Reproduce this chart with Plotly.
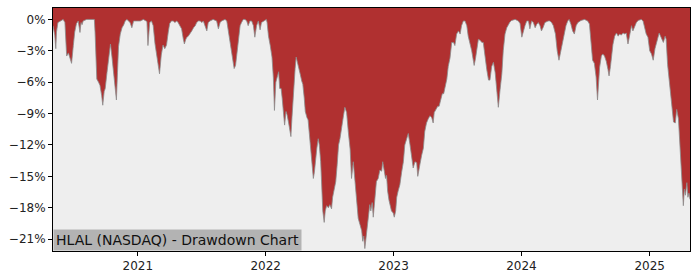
import plotly.graph_objects as go

dates = [
"2020-05-04","2020-05-09","2020-05-12","2020-05-14","2020-05-18","2020-05-26","2020-06-02","2020-06-07","2020-06-12","2020-06-17",
"2020-06-22","2020-06-26","2020-07-01","2020-07-05","2020-07-10","2020-07-15","2020-07-20","2020-07-23","2020-07-26","2020-07-29",
"2020-08-08","2020-08-17","2020-08-30","2020-09-01","2020-09-06","2020-09-11","2020-09-15","2020-09-20","2020-09-23","2020-09-27",
"2020-09-30","2020-10-05","2020-10-10","2020-10-15","2020-10-19","2020-10-24","2020-10-29","2020-11-01","2020-11-04","2020-11-07",
"2020-11-12","2020-11-17","2020-11-22","2020-11-26","2020-12-01","2020-12-10","2020-12-15","2020-12-20","2020-12-29","2021-01-08",
"2021-01-17","2021-01-27","2021-01-30","2021-02-02","2021-02-04","2021-02-09","2021-02-14","2021-02-19","2021-02-24","2021-02-28",
"2021-03-04","2021-03-09","2021-03-14","2021-03-19","2021-03-24","2021-03-29","2021-04-02","2021-04-07","2021-04-12","2021-04-17",
"2021-04-22","2021-04-26","2021-05-01","2021-05-06","2021-05-11","2021-05-14","2021-05-18","2021-05-21","2021-05-25","2021-05-30",
"2021-06-04","2021-06-09","2021-06-14","2021-06-18","2021-06-23","2021-06-28","2021-07-03","2021-07-07","2021-07-12","2021-07-17",
"2021-07-21","2021-07-26","2021-08-04","2021-08-14","2021-08-19","2021-08-24","2021-08-28","2021-09-07","2021-09-12","2021-09-17",
"2021-09-21","2021-09-26","2021-10-01","2021-10-03","2021-10-07","2021-10-10","2021-10-15","2021-10-20","2021-10-24","2021-10-29",
"2021-11-03","2021-11-08","2021-11-12","2021-11-17","2021-11-22","2021-11-27","2021-12-01","2021-12-06","2021-12-11","2021-12-16",
"2021-12-20","2021-12-30","2022-01-03","2022-01-05","2022-01-09","2022-01-14","2022-01-19","2022-01-23","2022-01-26","2022-01-30",
"2022-02-02","2022-02-07","2022-02-10","2022-02-14","2022-02-17","2022-02-21","2022-02-24","2022-02-28","2022-03-03","2022-03-07",
"2022-03-10","2022-03-14","2022-03-17","2022-03-21","2022-03-26","2022-03-29","2022-04-02","2022-04-05","2022-04-10","2022-04-14",
"2022-04-17","2022-04-21","2022-04-24","2022-04-29","2022-05-02","2022-05-05","2022-05-08","2022-05-11","2022-05-14","2022-05-17",
"2022-05-20","2022-05-23","2022-05-27","2022-05-31","2022-06-03","2022-06-07","2022-06-10","2022-06-13","2022-06-17","2022-06-20",
"2022-06-24","2022-06-29","2022-07-03","2022-07-08","2022-07-11","2022-07-15","2022-07-20","2022-07-24","2022-07-28","2022-08-01",
"2022-08-06","2022-08-11","2022-08-15","2022-08-20","2022-08-25","2022-08-30","2022-09-03","2022-09-08","2022-09-13","2022-09-18",
"2022-09-22","2022-09-27","2022-10-02","2022-10-05","2022-10-08","2022-10-11","2022-10-16","2022-10-20","2022-10-25","2022-10-28",
"2022-11-01","2022-11-04","2022-11-07","2022-11-11","2022-11-13","2022-11-18","2022-11-23","2022-11-28","2022-12-01","2022-12-04",
"2022-12-09","2022-12-12","2022-12-15","2022-12-19","2022-12-22","2022-12-26","2022-12-31","2023-01-03","2023-01-07","2023-01-10",
"2023-01-14","2023-01-19","2023-01-24","2023-01-29","2023-02-02","2023-02-07","2023-02-12","2023-02-17","2023-02-21","2023-02-26",
"2023-03-03","2023-03-08","2023-03-11","2023-03-14","2023-03-17","2023-03-22","2023-03-27","2023-03-31","2023-04-05","2023-04-10",
"2023-04-15","2023-04-20","2023-04-24","2023-04-27","2023-05-01","2023-05-07","2023-05-11","2023-05-16","2023-05-20","2023-05-24",
"2023-05-28","2023-06-02","2023-06-06","2023-06-11","2023-06-16","2023-06-21","2023-06-25","2023-06-30","2023-07-05","2023-07-10",
"2023-07-14","2023-07-19","2023-07-24","2023-07-29","2023-08-02","2023-08-07","2023-08-12","2023-08-17","2023-08-19","2023-08-23",
"2023-08-27","2023-08-31","2023-09-05","2023-09-10","2023-09-14","2023-09-19","2023-09-24","2023-09-29","2023-10-03","2023-10-08",
"2023-10-13","2023-10-18","2023-10-22","2023-10-27","2023-11-01","2023-11-06","2023-11-10","2023-11-15","2023-11-20","2023-11-25",
"2023-11-29","2023-12-04","2023-12-14","2023-12-23","2023-12-28","2024-01-02","2024-01-06","2024-01-11","2024-01-16","2024-01-21",
"2024-01-25","2024-01-30","2024-02-04","2024-02-09","2024-02-13","2024-02-18","2024-02-23","2024-02-27","2024-03-03","2024-03-08",
"2024-03-17","2024-03-22","2024-03-27","2024-04-01","2024-04-07","2024-04-12","2024-04-17","2024-04-22","2024-04-27","2024-05-02",
"2024-05-07","2024-05-12","2024-05-16","2024-05-21","2024-05-26","2024-05-31","2024-06-05","2024-06-10","2024-06-19","2024-06-29",
"2024-07-08","2024-07-13","2024-07-18","2024-07-22","2024-07-27","2024-08-01","2024-08-05","2024-08-08","2024-08-11","2024-08-16",
"2024-08-20","2024-08-25","2024-08-30","2024-09-04","2024-09-07","2024-09-11","2024-09-14","2024-09-18","2024-09-23","2024-09-28",
"2024-10-03","2024-10-07","2024-10-12","2024-10-17","2024-10-22","2024-10-26","2024-10-31","2024-11-05","2024-11-10","2024-11-14",
"2024-11-19","2024-11-24","2024-11-29","2024-12-08","2024-12-13","2024-12-17","2024-12-22","2024-12-27","2025-01-01","2025-01-06",
"2025-01-11","2025-01-16","2025-01-20","2025-01-25","2025-01-28","2025-02-01","2025-02-05","2025-02-09","2025-02-14","2025-02-17",
"2025-02-21","2025-02-25","2025-03-01","2025-03-05","2025-03-10","2025-03-15","2025-03-19","2025-03-24","2025-03-29","2025-04-01",
"2025-04-04","2025-04-07","2025-04-10","2025-04-13","2025-04-17","2025-04-20","2025-04-23","2025-04-26"]

drawdown = [
-0.6,-1.5,-2.8,-1.2,-0.3,-0.1,0.0,-0.3,-3.5,-3.2,
-3.7,-4.2,-2.5,-1.2,-0.4,-0.15,-1.25,-0.3,-0.5,-0.15,
0.0,0.0,0.0,-1.2,-5.7,-6.0,-6.3,-7.3,-8.2,-6.9,
-6.6,-5.1,-3.5,-2.35,-3.5,-5.1,-6.6,-7.7,-5.1,-2.6,
-1.4,-0.8,-0.5,-0.15,0.0,-0.3,-0.8,-0.15,-0.15,-0.15,
0.0,-0.2,-2.5,-1.2,-0.3,-0.15,-0.6,-2.3,-3.3,-4.2,
-5.2,-3.4,-2.45,-2.8,-2.45,-1.2,-0.4,-0.15,-0.15,-0.3,
-0.15,-0.3,-0.6,-0.9,-1.9,-2.35,-1.9,-1.7,-1.6,-1.4,
-1.1,-0.8,-0.6,-0.3,-0.15,-0.15,-0.3,-0.15,-0.6,-1.1,
-0.3,-0.15,0.0,-0.15,-0.9,-0.3,-0.15,0.0,-0.15,-1.2,
-2.45,-3.1,-4.2,-4.7,-4.4,-3.5,-1.9,-0.6,-0.3,0.0,
0.0,-0.15,-0.6,-0.15,-0.15,-0.6,-1.7,-0.6,-0.15,-1.0,
-0.3,-0.1,0.0,-0.3,-1.6,-2.5,-3.6,-5.6,-8.7,-6.0,
-5.5,-5.0,-6.6,-6.6,-7.5,-8.7,-10.1,-8.8,-9.1,-9.8,
-10.4,-11.2,-9.4,-6.9,-4.7,-3.6,-4.1,-4.7,-5.3,-5.9,
-6.2,-7.5,-8.8,-9.4,-9.6,-10.7,-12.0,-13.3,-14.2,-15.2,
-14.6,-13.3,-12.3,-11.4,-12.0,-13.6,-16.4,-18.3,-19.4,-18.3,
-17.8,-18.0,-17.7,-18.1,-17.0,-16.4,-15.5,-13.9,-12.0,-11.4,
-10.1,-9.2,-8.4,-8.9,-10.8,-12.4,-15.2,-13.6,-15.5,-17.7,
-19.0,-19.6,-20.2,-21.2,-20.7,-21.9,-20.6,-19.0,-17.7,-18.3,
-17.5,-18.9,-17.7,-16.4,-15.5,-15.2,-14.4,-14.5,-13.6,-14.2,
-15.2,-14.9,-16.4,-17.3,-17.7,-18.3,-18.5,-18.9,-18.3,-17.0,
-16.4,-15.8,-14.6,-13.6,-12.0,-11.4,-10.9,-12.0,-13.0,-14.2,
-13.6,-13.7,-15.0,-14.2,-13.9,-13.0,-12.3,-10.7,-9.9,-9.5,
-9.2,-9.4,-9.9,-8.9,-8.6,-8.3,-8.3,-7.7,-7.1,-7.1,
-6.5,-5.7,-4.5,-3.7,-2.2,-2.2,-2.5,-1.4,-1.1,-1.4,
-0.6,-0.15,-0.15,-0.6,-1.6,-2.2,-3.0,-4.0,-4.4,-3.7,
-2.7,-1.9,-2.0,-2.2,-2.2,-3.8,-4.8,-5.8,-5.8,-4.5,
-4.1,-5.1,-6.7,-8.4,-6.7,-5.2,-3.0,-1.4,-0.8,-0.4,
-0.25,-0.1,0.0,-0.15,-0.4,-1.7,-1.1,-0.6,-0.15,-0.15,
-0.9,-0.15,-0.3,-0.8,-0.5,-0.3,-0.6,-1.1,-0.75,-0.3,
-0.15,-0.15,-0.3,-0.6,-1.4,-3.0,-3.9,-3.0,-2.35,-1.4,
-0.6,-0.15,0.0,-0.45,-1.1,-1.4,-0.6,-0.3,-0.1,0.0,
-0.15,-0.45,-2.0,-3.9,-4.2,-5.5,-7.7,-5.8,-4.6,-3.5,
-3.3,-3.5,-4.0,-4.8,-5.4,-4.5,-3.6,-2.4,-1.6,-1.3,
-1.6,-1.4,-1.5,-1.3,-1.4,-1.3,-2.35,-1.3,-0.6,-1.1,
-0.6,-0.3,-0.1,0.0,-0.15,-0.6,-1.4,-1.7,-3.0,-3.3,
-3.9,-2.8,-2.2,-1.6,-1.3,-1.6,-1.9,-2.2,-1.6,-1.9,
-4.3,-5.6,-6.9,-8.1,-9.8,-9.9,-8.6,-9.5,-12.6,-14.8,
-16.4,-17.8,-16.2,-16.8,-15.6,-17.0,-16.6,-17.2]

y_tick_vals = [0, -3, -6, -9, -12, -15, -18, -21]
y_tick_text = ["0%", "\u22123%", "\u22126%", "\u22129%", "\u221212%", "\u221215%", "\u221218%", "\u221221%"]
x_tick_vals = ["2021-01-01", "2022-01-01", "2023-01-01", "2024-01-01", "2025-01-01"]
x_tick_text = ["2021", "2022", "2023", "2024", "2025"]
title_text = "HLAL (NASDAQ) - Drawdown Chart"

Y_TOP = 1.09
Y_BOTTOM = -22.13

fig = go.Figure()
fig.add_trace(go.Scatter(x=dates, y=[Y_TOP] * len(dates), mode="lines",
                         line=dict(width=0, color="rgba(0,0,0,0)"), hoverinfo="skip",
                         showlegend=False))
fig.add_trace(go.Scatter(x=dates, y=drawdown, mode="lines", fill="tonexty",
                         fillcolor="#b03030", line=dict(color="#8c8c8c", width=0.8),
                         showlegend=False))

fig.update_layout(
    width=700, height=280,
    margin=dict(l=53, r=10, t=7, b=28),
    paper_bgcolor="white", plot_bgcolor="#eeeeee",
    font=dict(family="DejaVu Sans", size=12, color="#222222"),
    xaxis=dict(range=[dates[0], dates[-1]], tickvals=x_tick_vals, ticktext=x_tick_text,
               showgrid=False, zeroline=False, ticks="outside", ticklen=4,
               tickcolor="black", showline=True, linecolor="black", linewidth=1,
               mirror=True, tickfont=dict(size=12, color="#222222")),
    yaxis=dict(range=[Y_BOTTOM, Y_TOP], tickvals=y_tick_vals, ticktext=y_tick_text,
               showgrid=False, zeroline=False, ticks="outside", ticklen=4,
               tickcolor="black", showline=True, linecolor="black", linewidth=1,
               mirror=True, tickfont=dict(size=12, color="#222222")),
    annotations=[dict(text=title_text, xref="paper", yref="paper", x=0, y=0,
                      xanchor="left", yanchor="bottom", showarrow=False,
                      bgcolor="#b3b3b3", borderpad=2,
                      font=dict(family="DejaVu Sans", size=14, color="#111111"))],
)

fig.write_html("out.html")
